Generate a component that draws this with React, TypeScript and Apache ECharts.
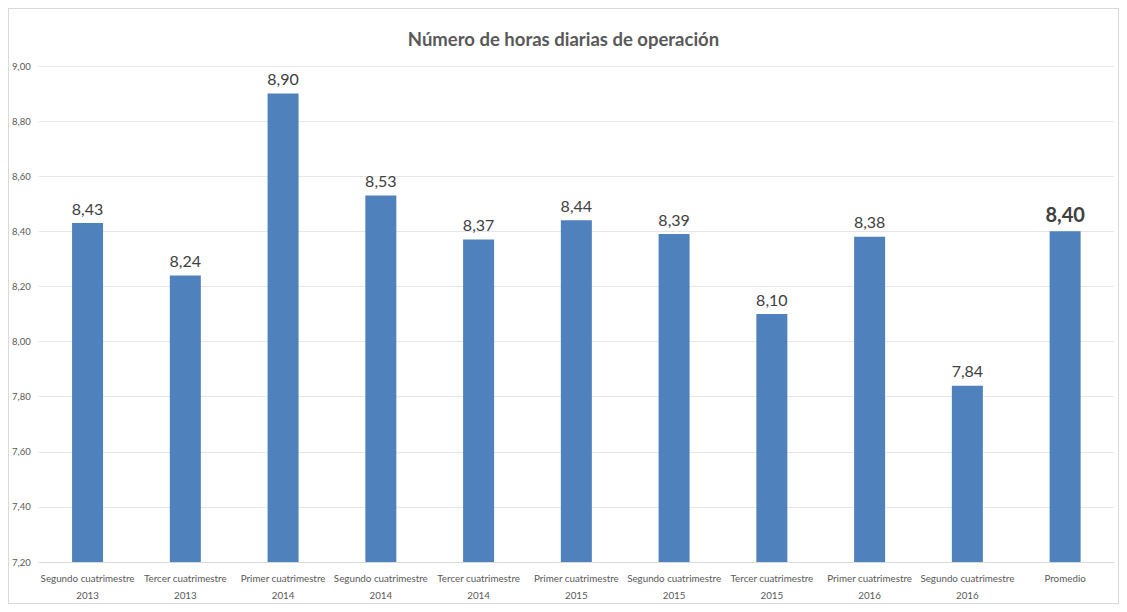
import React, { useEffect, useRef } from "react";
import * as echarts from "echarts";

const categories = [
  "Segundo cuatrimestre\n2013",
  "Tercer cuatrimestre\n2013",
  "Primer cuatrimestre\n2014",
  "Segundo cuatrimestre\n2014",
  "Tercer cuatrimestre\n2014",
  "Primer cuatrimestre\n2015",
  "Segundo cuatrimestre\n2015",
  "Tercer cuatrimestre\n2015",
  "Primer cuatrimestre\n2016",
  "Segundo cuatrimestre\n2016",
  "Promedio",
];
const values = [8.43, 8.24, 8.9, 8.53, 8.37, 8.44, 8.39, 8.1, 8.38, 7.84, 8.4];
const title = "Número de horas diarias de operación";
const FONT = "Lato, 'Noto Sans', sans-serif";

const fmt = (v: number) => v.toFixed(2).replace(".", ",");

export default function App() {
  const ref = useRef<HTMLDivElement>(null);
  useEffect(() => {
    if (!ref.current) return;
    const chart = echarts.init(ref.current, null, { renderer: "svg" });
    const lastIdx = values.length - 1;
    chart.setOption({
      animation: false,
      backgroundColor: "#ffffff",
      title: {
        text: title,
        left: "center",
        top: 15,
        textStyle: { fontFamily: FONT, fontSize: 18.5, fontWeight: "bold", color: "#595959" },
      },
      grid: { left: 28, right: 4, top: 57, bottom: 37, containLabel: false },
      xAxis: {
        type: "category",
        data: categories,
        axisLine: { show: true, lineStyle: { color: "#d9d9d9" } },
        axisTick: { show: false },
        axisLabel: {
          interval: 0,
          color: "#595959",
          fontFamily: FONT,
          fontSize: 9.8,
          lineHeight: 17,
          margin: 7,
        },
      },
      yAxis: {
        type: "value",
        min: 7.2,
        max: 9.0,
        interval: 0.2,
        axisLine: { show: false },
        axisTick: { show: false },
        splitLine: { lineStyle: { color: "#e6e6e6" } },
        axisLabel: {
          color: "#595959",
          fontFamily: FONT,
          fontSize: 9.5,
          margin: 8,
          formatter: (v: number) => fmt(v),
        },
      },
      series: [
        {
          type: "bar",
          data: values.map((v, i) =>
            i === lastIdx
              ? {
                  value: v,
                  label: { fontSize: 20, fontWeight: "bold", color: "#404040" },
                }
              : v
          ),
          barWidth: 31,
          itemStyle: { color: "#4f81bd" },
          label: {
            show: true,
            position: "top",
            distance: 7,
            color: "#404040",
            fontFamily: FONT,
            fontSize: 16,
            formatter: (p: any) => fmt(p.value),
          },
        },
      ],
    });
    return () => chart.dispose();
  }, []);
  return (
    <div
      ref={ref}
      style={{
        width: 1111,
        height: 596,
        border: "1px solid #d9d9d9",
        boxSizing: "border-box",
      }}
    />
  );
}
